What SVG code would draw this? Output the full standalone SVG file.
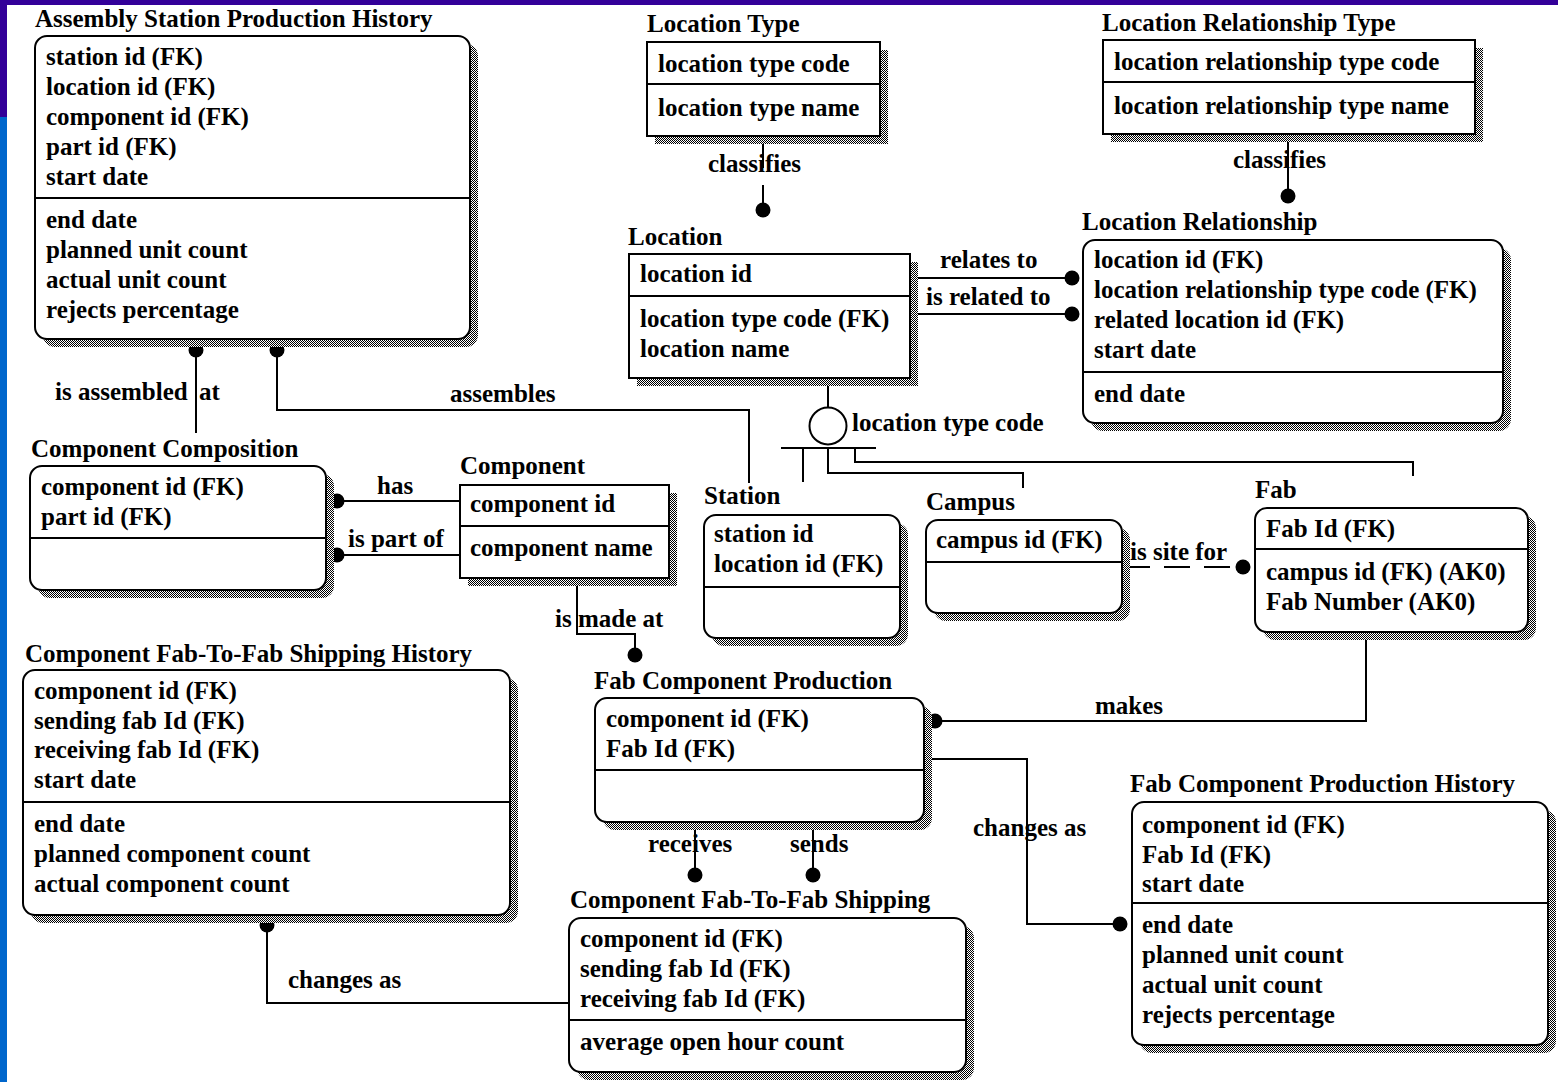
<svg xmlns="http://www.w3.org/2000/svg" width="1558" height="1082" viewBox="0 0 1558 1082">
  <defs>
    <!-- dithered drop shadow fill -->
    <pattern id="dither" width="2" height="2" patternUnits="userSpaceOnUse">
      <rect width="2" height="2" fill="#ffffff"/>
      <rect x="0" y="0" width="1" height="1" fill="#000000"/>
      <rect x="1" y="1" width="1" height="1" fill="#000000"/>
    </pattern>
  </defs>
  <style>
    text { font-family: "Liberation Serif", "Times New Roman", serif; font-weight: bold; font-size: 25px; fill: #000; }
    .shadow { fill: url(#dither); stroke: none; }
    .box { fill: #ffffff; stroke: #000; stroke-width: 2; }
    .div { stroke: #000; stroke-width: 2; }
    .ln { fill: none; stroke: #000; stroke-width: 2; }
    .dash { stroke-dasharray: 26 14; }
    .dot { fill: #000; }
    .ring { fill: #fff; stroke: #000; stroke-width: 2; }
  </style>

  <!-- page background and frame bars -->
  <rect width="1558" height="1082" fill="#ffffff"/>
  <rect x="0" y="0" width="1558" height="5" fill="#330099"/>
  <rect x="0" y="0" width="7" height="117" fill="#330099"/>
  <rect x="0" y="117" width="7" height="965" fill="#0066cc"/>

  <!-- relationship connectors -->
  <g id="connectors">
    <!-- Location Type classifies Location -->
    <line class="ln" x1="763" y1="136" x2="763" y2="168"/>
    <line class="ln" x1="763" y1="185" x2="763" y2="205"/>
    <circle class="dot" cx="763" cy="210" r="7.5"/>
    <text x="708" y="172">classifies</text>

    <!-- Location Relationship Type classifies Location Relationship -->
    <line class="ln" x1="1288" y1="134" x2="1288" y2="192"/>
    <circle class="dot" cx="1288" cy="196" r="7.5"/>
    <text x="1233" y="168">classifies</text>

    <!-- Location relates to / is related to Location Relationship -->
    <line class="ln" x1="916" y1="278" x2="1070" y2="278"/>
    <circle class="dot" cx="1072" cy="278" r="7.5"/>
    <text x="940" y="268">relates to</text>
    <line class="ln" x1="916" y1="314" x2="1070" y2="314"/>
    <circle class="dot" cx="1072" cy="314" r="7.5"/>
    <text x="926" y="305">is related to</text>

    <!-- subtype discriminator on location type code -->
    <line class="ln" x1="828" y1="378" x2="828" y2="407"/>
    <circle class="ring" cx="828" cy="426" r="18.5"/>
    <line class="ln" x1="781" y1="448" x2="876" y2="448"/>
    <polyline class="ln" points="803,448 803,482"/>
    <polyline class="ln" points="828,448 828,473 1023,473 1023,488"/>
    <polyline class="ln" points="855,448 855,462 1413,462 1413,476"/>
    <text x="852" y="431">location type code</text>

    <!-- Assembly Station Production History links -->
    <line class="ln" x1="196" y1="350" x2="196" y2="433"/>
    <circle class="dot" cx="196" cy="350" r="7.5"/>
    <text x="55" y="400">is assembled <tspan x="199">at</tspan></text>
    <polyline class="ln" points="277,350 277,410 749,410 749,483"/>
    <circle class="dot" cx="277" cy="350" r="7.5"/>
    <text x="450" y="402">assembles</text>

    <!-- Component has / is part of Component Composition -->
    <line class="ln" x1="337" y1="501" x2="460" y2="501"/>
    <circle class="dot" cx="337" cy="501" r="7.5"/>
    <text x="377" y="494">has</text>
    <line class="ln" x1="337" y1="555" x2="460" y2="555"/>
    <circle class="dot" cx="337" cy="555" r="7.5"/>
    <text x="348" y="547">is part of</text>

    <!-- Component is made at Fab Component Production -->
    <polyline class="ln" points="577,578 577,634 635,634 635,650"/>
    <circle class="dot" cx="635" cy="655" r="7.5"/>
    <text x="555" y="627">is made at</text>

    <!-- Campus is site for Fab -->
    <line class="ln dash" x1="1124" y1="567" x2="1240" y2="567"/>
    <circle class="dot" cx="1243" cy="567" r="7.5"/>
    <text x="1130" y="560">is site for</text>

    <!-- Fab makes Fab Component Production -->
    <polyline class="ln" points="1366,632 1366,721 937,721"/>
    <circle class="dot" cx="935" cy="721" r="7.5"/>
    <text x="1095" y="714">makes</text>

    <!-- Fab Component Production changes as history -->
    <polyline class="ln" points="924,759 1027,759 1027,924 1118,924"/>
    <circle class="dot" cx="1120" cy="924" r="7.5"/>
    <text x="973" y="836">changes as</text>

    <!-- Fab Component Production receives / sends shipping -->
    <line class="ln" x1="695" y1="822" x2="695" y2="872"/>
    <circle class="dot" cx="695" cy="875" r="7.5"/>
    <text x="648" y="852">receives</text>
    <line class="ln" x1="813" y1="822" x2="813" y2="872"/>
    <circle class="dot" cx="813" cy="875" r="7.5"/>
    <text x="790" y="852">sends</text>

    <!-- Shipping changes as shipping history -->
    <polyline class="ln" points="569,1003 267,1003 267,928"/>
    <circle class="dot" cx="267" cy="925" r="7.5"/>
    <text x="288" y="988">changes as</text>
  </g>

  <g id="assembly-station-production-history">
    <text x="35" y="27">Assembly Station Production History</text>
    <rect class="shadow" x="43" y="44" width="435" height="303" rx="12"/>
    <rect class="box" x="35" y="36" width="435" height="303" rx="12"/>
    <line class="div" x1="35" y1="198" x2="470" y2="198"/>
    <text x="46" y="65">station id (FK)</text>
    <text x="46" y="95">location id (FK)</text>
    <text x="46" y="125">component id (FK)</text>
    <text x="46" y="155">part id (FK)</text>
    <text x="46" y="185">start date</text>
    <text x="46" y="228">end date</text>
    <text x="46" y="258">planned unit count</text>
    <text x="46" y="288">actual unit count</text>
    <text x="46" y="318">rejects percentage</text>
  </g>

  <g id="location-type">
    <text x="647" y="32">Location Type</text>
    <rect class="shadow" x="655" y="50" width="233" height="94"/>
    <rect class="box" x="647" y="42" width="233" height="94"/>
    <line class="div" x1="647" y1="84" x2="880" y2="84"/>
    <text x="658" y="72">location type code</text>
    <text x="658" y="116">location type name</text>
  </g>

  <g id="location">
    <text x="628" y="245">Location</text>
    <rect class="shadow" x="637" y="262" width="281" height="124"/>
    <rect class="box" x="629" y="254" width="281" height="124"/>
    <line class="div" x1="629" y1="296" x2="910" y2="296"/>
    <text x="640" y="282">location id</text>
    <text x="640" y="327">location type code (FK)</text>
    <text x="640" y="357">location name</text>
  </g>

  <g id="location-relationship-type">
    <text x="1102" y="31">Location Relationship Type</text>
    <rect class="shadow" x="1111" y="48" width="372" height="94"/>
    <rect class="box" x="1103" y="40" width="372" height="94"/>
    <line class="div" x1="1103" y1="82" x2="1475" y2="82"/>
    <text x="1114" y="70">location relationship type code</text>
    <text x="1114" y="114">location relationship type name</text>
  </g>

  <g id="location-relationship">
    <text x="1082" y="230">Location Relationship</text>
    <rect class="shadow" x="1091" y="248" width="420" height="183" rx="12"/>
    <rect class="box" x="1083" y="240" width="420" height="183" rx="12"/>
    <line class="div" x1="1083" y1="372" x2="1503" y2="372"/>
    <text x="1094" y="268">location id (FK)</text>
    <text x="1094" y="298">location relationship type code (FK)</text>
    <text x="1094" y="328">related location id (FK)</text>
    <text x="1094" y="358">start date</text>
    <text x="1094" y="402">end date</text>
  </g>

  <g id="component-composition">
    <text x="31" y="457">Component Composition</text>
    <rect class="shadow" x="38" y="474" width="296" height="124" rx="12"/>
    <rect class="box" x="30" y="466" width="296" height="124" rx="12"/>
    <line class="div" x1="30" y1="538" x2="326" y2="538"/>
    <text x="41" y="495">component id (FK)</text>
    <text x="41" y="525">part id (FK)</text>
  </g>

  <g id="component">
    <text x="460" y="474">Component</text>
    <rect class="shadow" x="468" y="493" width="209" height="93"/>
    <rect class="box" x="460" y="485" width="209" height="93"/>
    <line class="div" x1="460" y1="526" x2="669" y2="526"/>
    <text x="470" y="512">component id</text>
    <text x="470" y="556">component name</text>
  </g>

  <g id="station">
    <text x="704" y="504">Station</text>
    <rect class="shadow" x="712" y="523" width="196" height="123" rx="12"/>
    <rect class="box" x="704" y="515" width="196" height="123" rx="12"/>
    <line class="div" x1="704" y1="587" x2="900" y2="587"/>
    <text x="714" y="542">station id</text>
    <text x="714" y="572">location id (FK)</text>
  </g>

  <g id="campus">
    <text x="926" y="510">Campus</text>
    <rect class="shadow" x="934" y="528" width="196" height="93" rx="12"/>
    <rect class="box" x="926" y="520" width="196" height="93" rx="12"/>
    <line class="div" x1="926" y1="562" x2="1122" y2="562"/>
    <text x="936" y="548">campus id (FK)</text>
  </g>

  <g id="fab">
    <text x="1255" y="498">Fab</text>
    <rect class="shadow" x="1263" y="516" width="273" height="124" rx="12"/>
    <rect class="box" x="1255" y="508" width="273" height="124" rx="12"/>
    <line class="div" x1="1255" y1="549" x2="1528" y2="549"/>
    <text x="1266" y="537">Fab Id (FK)</text>
    <text x="1266" y="580">campus id (FK) (AK0)</text>
    <text x="1266" y="610">Fab Number (AK0)</text>
  </g>

  <g id="component-fab-to-fab-shipping-history">
    <text x="25" y="662">Component Fab-To-Fab Shipping History</text>
    <rect class="shadow" x="31" y="678" width="487" height="245" rx="12"/>
    <rect class="box" x="23" y="670" width="487" height="245" rx="12"/>
    <line class="div" x1="23" y1="802" x2="510" y2="802"/>
    <text x="34" y="699">component id (FK)</text>
    <text x="34" y="729">sending fab Id (FK)</text>
    <text x="34" y="758">receiving fab Id (FK)</text>
    <text x="34" y="788">start date</text>
    <text x="34" y="832">end date</text>
    <text x="34" y="862">planned component count</text>
    <text x="34" y="892">actual component count</text>
  </g>

  <g id="fab-component-production">
    <text x="594" y="689">Fab Component Production</text>
    <rect class="shadow" x="603" y="706" width="329" height="124" rx="12"/>
    <rect class="box" x="595" y="698" width="329" height="124" rx="12"/>
    <line class="div" x1="595" y1="770" x2="924" y2="770"/>
    <text x="606" y="727">component id (FK)</text>
    <text x="606" y="757">Fab Id (FK)</text>
  </g>

  <g id="component-fab-to-fab-shipping">
    <text x="570" y="908">Component Fab-To-Fab Shipping</text>
    <rect class="shadow" x="577" y="926" width="397" height="154" rx="12"/>
    <rect class="box" x="569" y="918" width="397" height="154" rx="12"/>
    <line class="div" x1="569" y1="1020" x2="966" y2="1020"/>
    <text x="580" y="947">component id (FK)</text>
    <text x="580" y="977">sending fab Id (FK)</text>
    <text x="580" y="1007">receiving fab Id (FK)</text>
    <text x="580" y="1050">average open hour count</text>
  </g>

  <g id="fab-component-production-history">
    <text x="1130" y="792">Fab Component Production History</text>
    <rect class="shadow" x="1140" y="810" width="416" height="243" rx="12"/>
    <rect class="box" x="1132" y="802" width="416" height="243" rx="12"/>
    <line class="div" x1="1132" y1="903" x2="1548" y2="903"/>
    <text x="1142" y="833">component id (FK)</text>
    <text x="1142" y="863">Fab Id (FK)</text>
    <text x="1142" y="892">start date</text>
    <text x="1142" y="933">end date</text>
    <text x="1142" y="963">planned unit count</text>
    <text x="1142" y="993">actual unit count</text>
    <text x="1142" y="1023">rejects percentage</text>
  </g>
</svg>
